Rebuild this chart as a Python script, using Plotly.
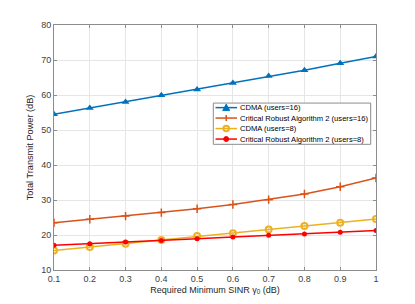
import plotly.graph_objects as go

x = [0.1, 0.2, 0.3, 0.4, 0.5, 0.6, 0.7, 0.8, 0.9, 1.0]
cdma16 = [54.5, 56.3, 58.0, 59.9, 61.6, 63.4, 65.4, 67.1, 69.1, 71.0]
robust16 = [23.5, 24.5, 25.4, 26.4, 27.5, 28.7, 30.1, 31.7, 33.8, 36.3]
cdma8 = [15.6, 16.6, 17.5, 18.6, 19.7, 20.5, 21.6, 22.6, 23.5, 24.6]
robust8 = [17.1, 17.5, 18.0, 18.4, 18.9, 19.4, 19.9, 20.3, 20.8, 21.3]
names = ["CDMA (users=16)", "Critical Robust Algorithm 2 (users=16)",
         "CDMA (users=8)", "Critical Robust Algorithm 2 (users=8)"]
colors = ["#0072BD", "#D95319", "#EDB120", "#FF0000"]
xticks = [0.1, 0.2, 0.3, 0.4, 0.5, 0.6, 0.7, 0.8, 0.9, 1]
xticklabels = ["0.1", "0.2", "0.3", "0.4", "0.5", "0.6", "0.7", "0.8", "0.9", "1"]
yticks = [10, 20, 30, 40, 50, 60, 70, 80]

FONT = "Liberation Sans, Arial"

# page offset (body margin) compensation
OFF = 8
PL, PR, PT, PB = 54, 376, 23, 270  # plot area in screen pixels

fig = go.Figure()
fig.add_trace(go.Scatter(x=x, y=cdma16, name=names[0], mode="lines+markers",
                         line=dict(color=colors[0], width=1.5),
                         marker=dict(symbol="triangle-up", size=7, color=colors[0])))
fig.add_trace(go.Scatter(x=x, y=robust16, name=names[1], mode="lines+markers",
                         line=dict(color=colors[1], width=1.5),
                         marker=dict(symbol="cross-thin", size=6, line=dict(color=colors[1], width=1.5))))
fig.add_trace(go.Scatter(x=x, y=cdma8, name=names[2], mode="lines+markers",
                         line=dict(color=colors[2], width=1.5),
                         marker=dict(symbol="circle-open", size=6, line=dict(color=colors[2], width=2))))
fig.add_trace(go.Scatter(x=x, y=robust8, name=names[3], mode="lines+markers",
                         line=dict(color=colors[3], width=1.5),
                         marker=dict(symbol="circle", size=5, color=colors[3])))

axis_common = dict(showline=True, mirror="ticks", linecolor="#8c8c8c", linewidth=1,
                   ticks="inside", ticklen=3, tickcolor="#8c8c8c",
                   showgrid=True, gridcolor="#e6e6e6", gridwidth=1, zeroline=False,
                   tickfont=dict(family=FONT, size=9, color="#404040"))

fig.update_xaxes(range=[0.1, 1], tickvals=xticks, ticktext=xticklabels,
                 title=dict(text="Required Minimum SINR γ<sub>0</sub> (dB)", standoff=3,
                            font=dict(family=FONT, size=9, color="#262626")),
                 **axis_common)
fig.update_yaxes(range=[10, 80], tickvals=yticks,
                 title=dict(text="Total Transmit Power (dB)", standoff=5,
                            font=dict(family=FONT, size=9.2, color="#262626")),
                 **axis_common)

# ---- compact legend drawn in paper coordinates ----
def px(u):
    return (u - PL) / (PR - PL)

def py(v):
    return (PB - v) / (PB - PT)

shapes = []
annotations = []
bx0, bx1, by0, by1 = 213.3, 370.7, 101.7, 143.3
shapes.append(dict(type="rect", xref="paper", yref="paper", x0=px(bx0), x1=px(bx1),
                   y0=py(by1), y1=py(by0), line=dict(color="#8c8c8c", width=1),
                   fillcolor="white", layer="above"))
rows = [106.3, 116.8, 127.4, 138.0]
lx0, lx1, mx = 215.5, 237.0, 226.2
for i, (nm, c, yy) in enumerate(zip(names, colors, rows)):
    shapes.append(dict(type="line", xref="paper", yref="paper", x0=px(lx0), x1=px(lx1),
                       y0=py(yy), y1=py(yy), line=dict(color=c, width=1.5), layer="above"))
    if i == 0:
        path = "M {} {} L {} {} L {} {} Z".format(px(mx - 3.5), py(yy + 3), px(mx + 3.5), py(yy + 3),
                                                  px(mx), py(yy - 3.5))
        shapes.append(dict(type="path", xref="paper", yref="paper", path=path,
                           fillcolor=c, line=dict(color=c, width=1), layer="above"))
    elif i == 1:
        shapes.append(dict(type="line", xref="paper", yref="paper", x0=px(mx), x1=px(mx),
                           y0=py(yy - 3), y1=py(yy + 3), line=dict(color=c, width=1.5), layer="above"))
    elif i == 2:
        shapes.append(dict(type="circle", xref="paper", yref="paper", x0=px(mx - 2.8), x1=px(mx + 2.8),
                           y0=py(yy + 2.8), y1=py(yy - 2.8), line=dict(color=c, width=2),
                           fillcolor="rgba(0,0,0,0)", layer="above"))
    else:
        shapes.append(dict(type="circle", xref="paper", yref="paper", x0=px(mx - 2.5), x1=px(mx + 2.5),
                           y0=py(yy + 2.5), y1=py(yy - 2.5), line=dict(color=c, width=1),
                           fillcolor=c, layer="above"))
    annotations.append(dict(xref="paper", yref="paper", x=px(238.0), y=py(yy), text=nm,
                            showarrow=False, xanchor="left", yanchor="middle",
                            font=dict(family=FONT, size=7.6, color="#000"), xshift=0))

fig.update_layout(
    width=415, height=304,
    margin=dict(l=PL - OFF, r=415 - PR + OFF, t=PT - OFF, b=304 - PB + OFF),
    paper_bgcolor="white", plot_bgcolor="white",
    showlegend=False,
    shapes=shapes, annotations=annotations,
)
fig.write_html("out.html")
